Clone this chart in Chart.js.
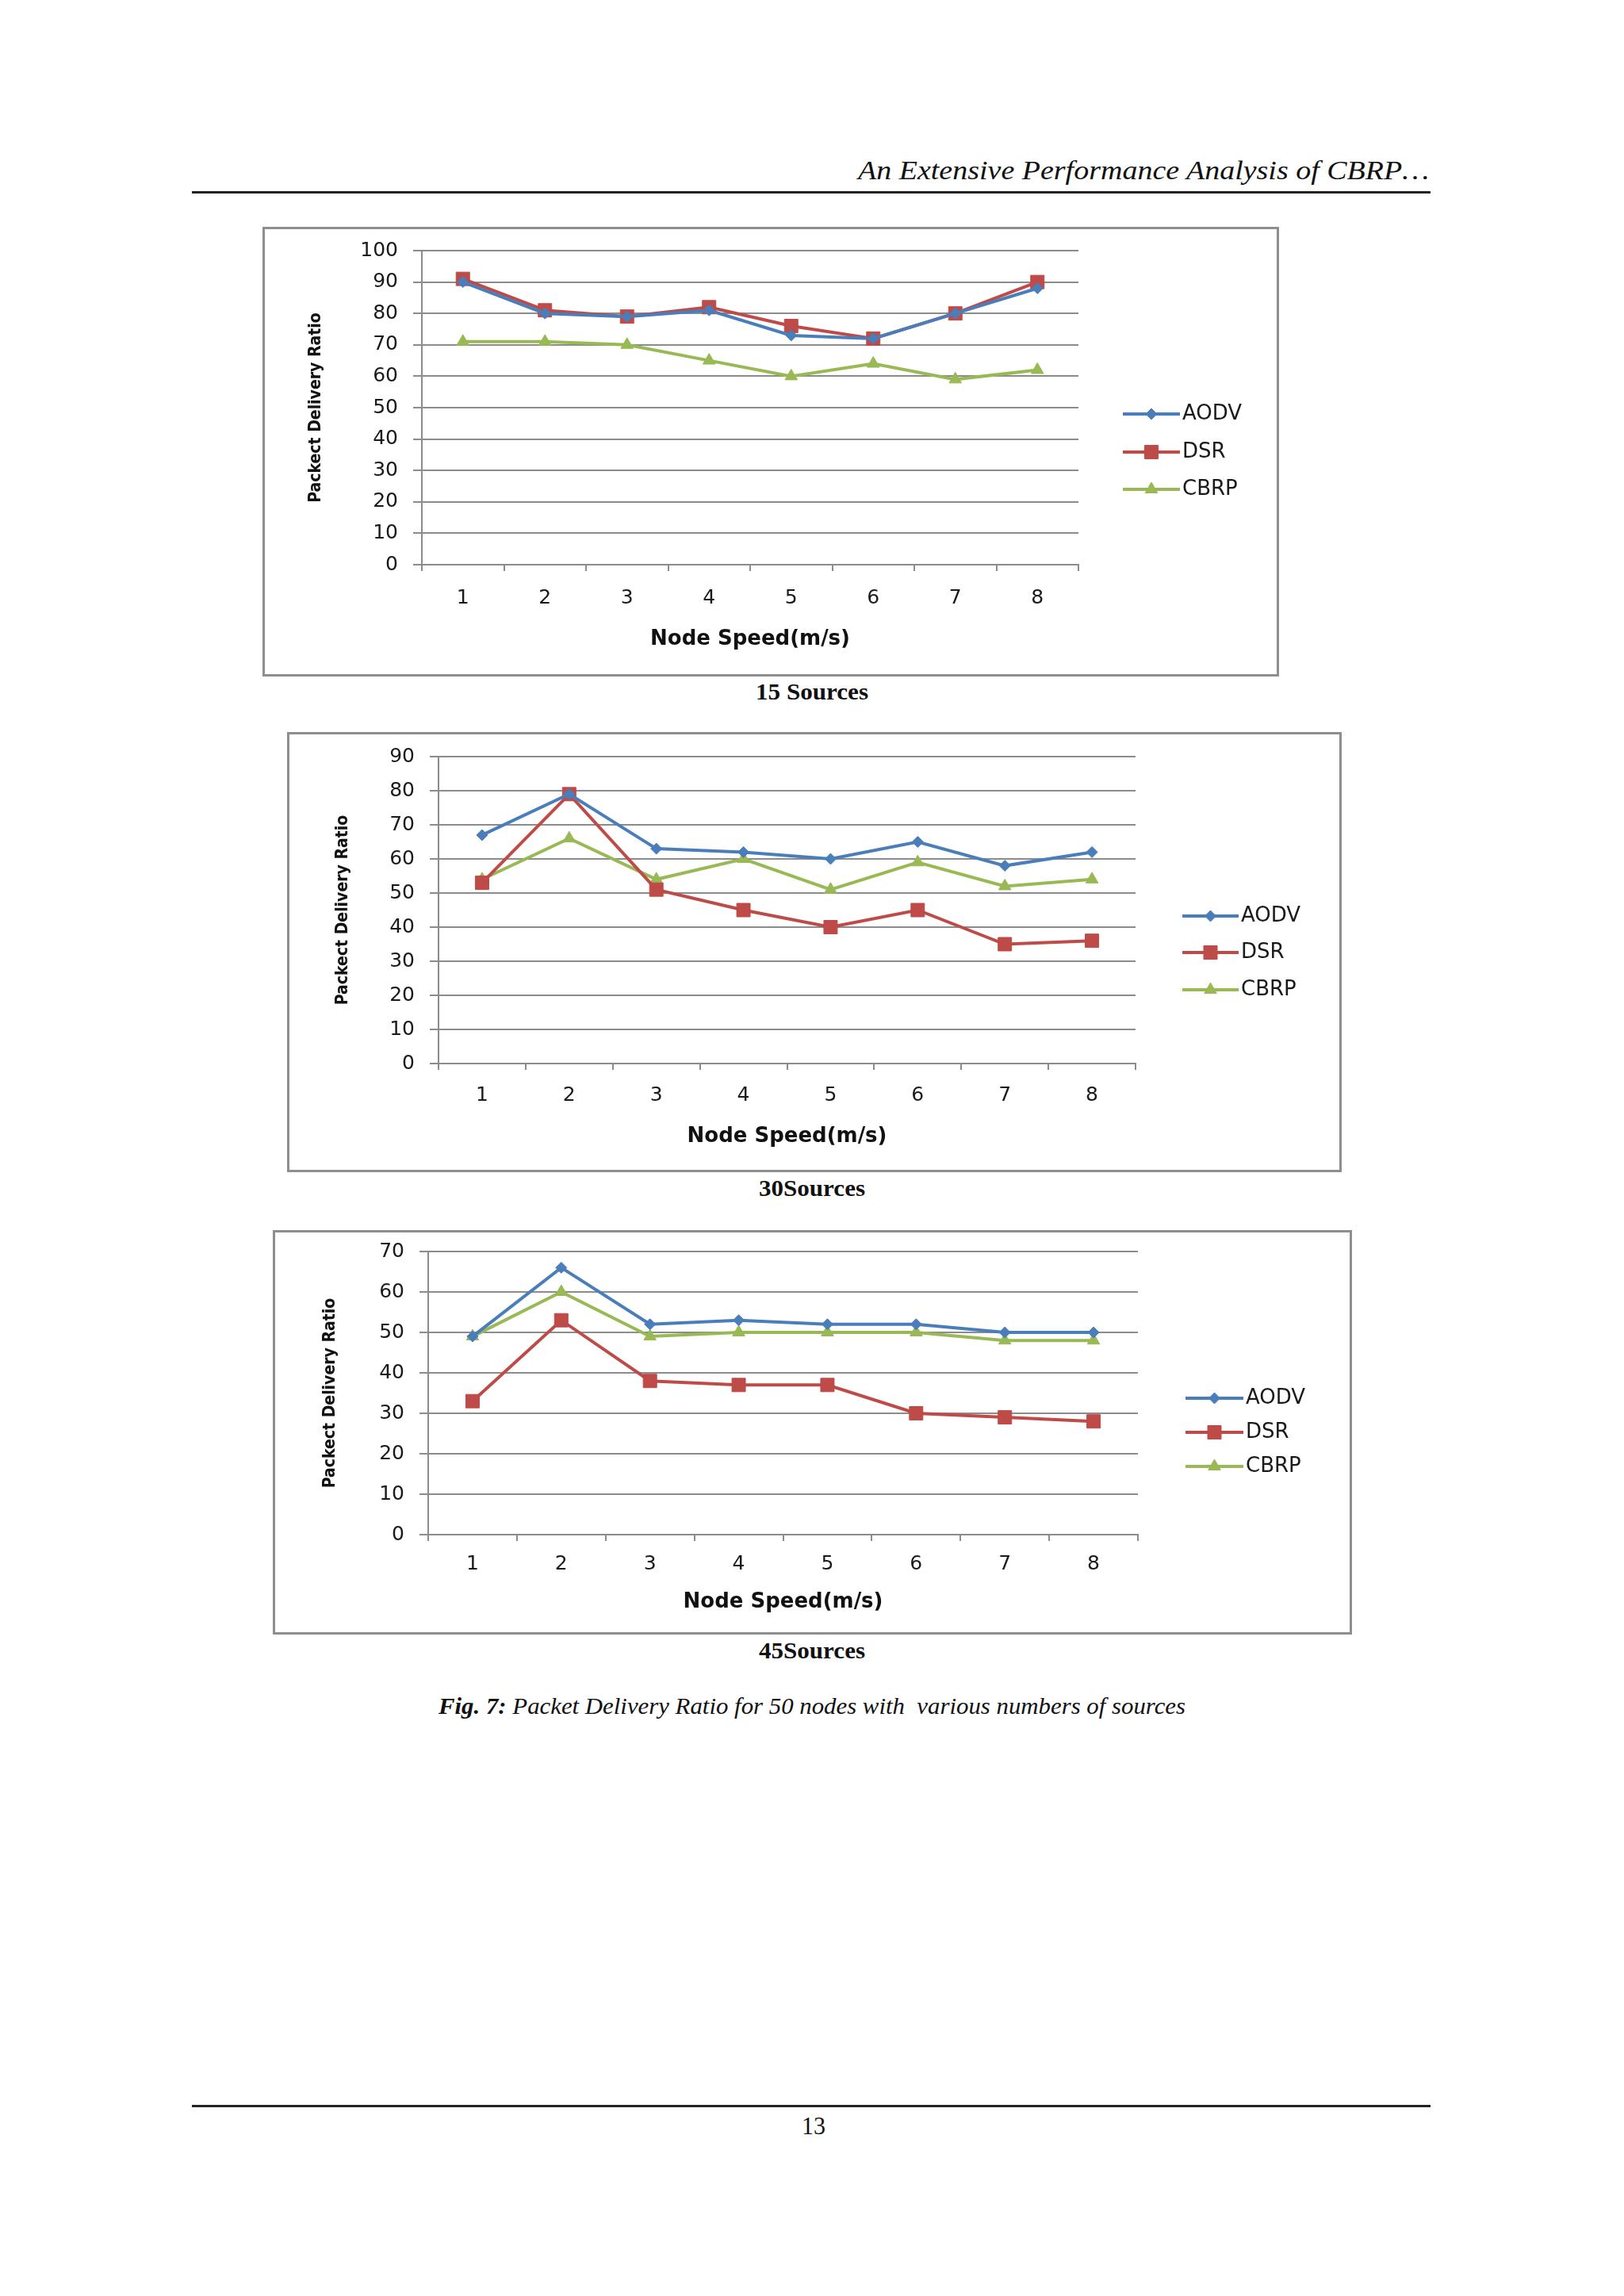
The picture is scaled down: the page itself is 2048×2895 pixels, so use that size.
<!DOCTYPE html>
<html>
<head>
<meta charset="utf-8">
<script src="https://cdn.jsdelivr.net/npm/chart.js@4.4.0/dist/chart.umd.min.js"></script>
<style>
body{margin:0;background:#fff;}
#page{position:relative;width:2048px;height:2895px;background:#fff;overflow:hidden;}
.box{position:absolute;border:3px solid #8e8e8e;box-sizing:border-box;background:#fff;}
.box canvas{display:block;}
.txt{position:absolute;white-space:nowrap;line-height:1;color:#111;transform-origin:0 0;font-family:"Liberation Serif","Times New Roman",serif;}
.rule{position:absolute;height:3px;background:#222;}
</style>
</head>
<body>
<div id="page">
  <div class="txt" id="hdr" style="font-style:italic;font-size:33px;">An Extensive Performance Analysis of CBRP…</div>
  <div class="rule" style="left:242px;top:241px;width:1562px;"></div>
  <div class="box" id="b15"><canvas id="c15"></canvas></div>
  <div class="txt" id="cap15" style="font-weight:bold;font-size:30px;">15 Sources</div>
  <div class="box" id="b30"><canvas id="c30"></canvas></div>
  <div class="txt" id="cap30" style="font-weight:bold;font-size:30px;">30Sources</div>
  <div class="box" id="b45"><canvas id="c45"></canvas></div>
  <div class="txt" id="cap45" style="font-weight:bold;font-size:30px;">45Sources</div>
  <div class="txt" id="fig" style="font-style:italic;font-size:29px;"><b>Fig. 7:</b> Packet Delivery Ratio for 50 nodes with&nbsp; various numbers of sources</div>
  <div class="rule" style="left:242px;top:2654px;width:1562px;"></div>
  <div class="txt" id="pg" style="font-size:32px;">13</div>
</div>
<script>
// node speed categories
const speeds = ['1','2','3','4','5','6','7','8'];
const protocols = ['AODV','DSR','CBRP'];

// 15 sources
const aodv15 = [90,80,79,81,73,72,80,88];
const dsr15  = [91,81,79,82,76,72,80,90];
const cbrp15 = [71,71,70,65,60,64,59,62];
// 30 sources
const aodv30 = [67,79,63,62,60,65,58,62];
const dsr30  = [53,79,51,45,40,45,35,36];
const cbrp30 = [54,66,54,60,51,59,52,54];
// 45 sources
const aodv45 = [49,66,52,53,52,52,50,50];
const dsr45  = [33,53,38,37,37,30,29,28];
const cbrp45 = [49,60,49,50,50,50,48,48];

const yMax = {c15:100, c30:90, c45:70};

const colors = ['#4a7ebb','#be4b48','#98b954'];
const marks = [{s:'rectRot',r:7},{s:'rect',r:12},{s:'triangle',r:9}];
const GRID = '#8c8c8c';
const TICK_SIZE = 25, LEG_SIZE = 26, XT_SIZE = 26, YT_SIZE = 21;
const NARROW = '"Liberation Sans Narrow", "DejaVu Sans Condensed", "Roboto Condensed", sans-serif';

function marker(ctx, style, r, x, y, col){
  ctx.save(); ctx.fillStyle=col; ctx.strokeStyle=col; ctx.lineWidth=1;
  if (Chart.helpers && Chart.helpers.drawPoint){
    Chart.helpers.drawPoint(ctx,{pointStyle:style,radius:r,rotation:0,borderWidth:1},x,y);
  }
  ctx.restore();
}

// legend with a short line and marker, like the office chart
const lineLegend = {
  id:'lineLegend',
  afterDraw(chart, args, o){
    const ctx = chart.ctx;
    chart.data.datasets.forEach((ds,i)=>{
      const y = o.ys[i];
      ctx.save();
      ctx.strokeStyle = ds.borderColor; ctx.lineWidth = 4;
      ctx.beginPath(); ctx.moveTo(o.x1,y); ctx.lineTo(o.x2,y); ctx.stroke();
      ctx.restore();
      marker(ctx, ds.pointStyle, ds.pointRadius, (o.x1+o.x2)/2, y, ds.borderColor);
      ctx.save();
      ctx.fillStyle='#1a1a1a'; ctx.font=LEG_SIZE+'px "DejaVu Sans"'; ctx.textBaseline='middle';
      ctx.fillText(ds.label, o.tx, y);
      ctx.restore();
    });
  }
};

function makeChart(id, series, L){
  const el = document.getElementById('b'+id.slice(1));
  el.style.left=L.box.x+'px'; el.style.top=L.box.y+'px';
  el.style.width=L.box.w+'px'; el.style.height=L.box.h+'px';
  const W=L.box.w-6, H=L.box.h-6, ox=L.box.x+3, oy=L.box.y+3;
  const cv = document.getElementById(id); cv.width=W; cv.height=H;
  const left=L.plot.l-ox, top=L.plot.t-oy, right=L.plot.r-ox, bottom=L.plot.b-oy;
  const yLH = YT_SIZE*1.2, xLH = XT_SIZE*1.2, tickLH = TICK_SIZE*1.2;
  const padL = L.yTitleX-ox-yLH/2;
  const yW = left-padL;
  const boxBottom = L.xTitleY-oy+xLH/2;
  const padB = H-boxBottom;
  const xH = boxBottom-bottom;
  const xTickPad = (L.tickY-oy)-bottom-8-tickLH/2;
  const leg = {x1:L.leg.x1-ox, x2:L.leg.x2-ox, tx:L.leg.tx-ox, ys:L.leg.ys.map(v=>v-oy)};
  return new Chart(cv,{
    type:'line',
    data:{labels:speeds, datasets:series.map((d,i)=>({
      label:protocols[i], data:d, borderColor:colors[i], backgroundColor:colors[i],
      borderWidth:4, pointStyle:marks[i].s, pointRadius:marks[i].r, pointBorderWidth:1,
      pointHoverRadius:marks[i].r, tension:0, clip:false
    }))},
    options:{
      responsive:false, animation:false, devicePixelRatio:1,
      layout:{padding:{left:padL, top:top, right:W-right, bottom:padB}},
      plugins:{legend:{display:false}, tooltip:{enabled:false}, lineLegend:leg},
      scales:{
        x:{offset:true,
           grid:{offset:true, drawOnChartArea:false, drawTicks:true, tickLength:8, color:GRID, lineWidth:2},
           border:{color:GRID, width:2},
           ticks:{padding:xTickPad, color:'#1a1a1a', font:{family:'DejaVu Sans', size:TICK_SIZE}},
           title:{display:true, text:'Node Speed(m/s)', color:'#111', padding:0,
                  font:{family:'DejaVu Sans', weight:'bold', size:XT_SIZE}},
           afterFit(s){ s.height=xH; s.paddingLeft=0; s.paddingRight=0; }},
        y:{min:0, max:yMax[id],
           grid:{color:GRID, lineWidth:2, tickLength:11},
           border:{color:GRID, width:2},
           ticks:{stepSize:10, padding:19, color:'#1a1a1a', font:{family:'DejaVu Sans', size:TICK_SIZE}},
           title:{display:true, text:'Packect Delivery Ratio', color:'#111', padding:0,
                  font:{family:NARROW, weight:'bold', size:YT_SIZE}},
           afterFit(s){ s.width=yW; s.paddingTop=0; s.paddingBottom=0; }}
      }
    },
    plugins:[lineLegend]
  });
}

makeChart('c15',[aodv15,dsr15,cbrp15],{
  box:{x:331,y:286,w:1282,h:567}, plot:{l:532,t:316,r:1360,b:712},
  yTitleX:399, xTitleY:806, tickY:754,
  leg:{x1:1416,x2:1488,tx:1491,ys:[522,570,617]}});
makeChart('c30',[aodv30,dsr30,cbrp30],{
  box:{x:362,y:923,w:1330,h:555}, plot:{l:553,t:954,r:1432,b:1341},
  yTitleX:433, xTitleY:1433, tickY:1381,
  leg:{x1:1491,x2:1562,tx:1565,ys:[1155,1201,1248]}});
makeChart('c45',[aodv45,dsr45,cbrp45],{
  box:{x:344,y:1551,w:1361,h:510}, plot:{l:540,t:1578,r:1435,b:1935},
  yTitleX:417, xTitleY:2020, tickY:1972,
  leg:{x1:1495,x2:1568,tx:1571,ys:[1763,1806,1849]}});

// place page text: left edge, baseline, target width
function place(id, x, base, w, center){
  const el=document.getElementById(id);
  const fs=parseFloat(el.style.fontSize);
  const nat=el.getBoundingClientRect().width;
  const k=w/nat;
  el.style.left=(center? x-w/2 : x)+'px';
  el.style.top=(base-0.84*fs)+'px';
  el.style.transform='scaleX('+k+')';
}
place('hdr',1082,227,720);
place('cap15',1024,882,142,true);
place('cap30',1024,1508,134,true);
place('cap45',1024,2091,134,true);
place('fig',553,2161,942);
place('pg',1026,2691,30,true);
</script>
</body>
</html>
